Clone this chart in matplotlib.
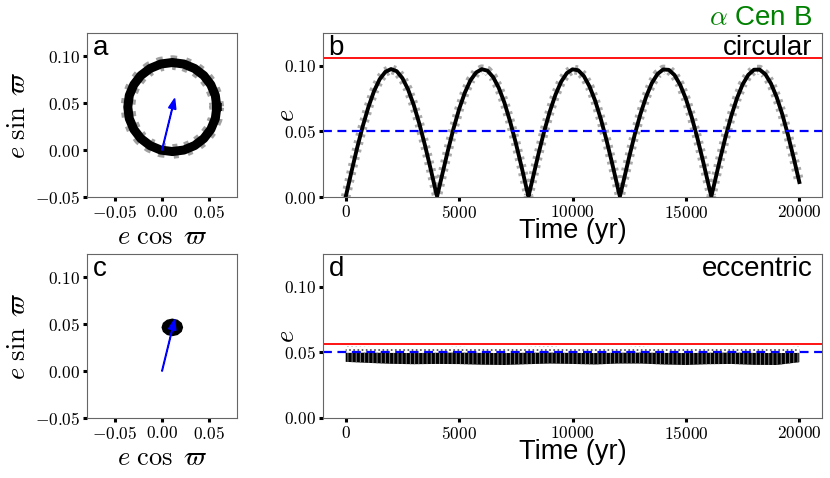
import matplotlib
matplotlib.use('Agg')
import matplotlib.pyplot as plt
from matplotlib.ticker import FixedLocator, FuncFormatter

plt.rcParams['mathtext.fontset'] = 'cm'
plt.rcParams['font.family'] = ['Liberation Sans', 'DejaVu Sans']
plt.rcParams['hatch.linewidth'] = 0.8

# ---------------- data ----------------
# panel a: e-vector trajectory (circular binary case)
ring_x = [0.0585, 0.0569, 0.0521, 0.0446, 0.0348, 0.0233, 0.0110, -0.0013,
          -0.0128, -0.0226, -0.0301, -0.0349, -0.0365, -0.0349, -0.0301, -0.0226,
          -0.0128, -0.0013, 0.0110, 0.0233, 0.0348, 0.0446, 0.0521, 0.0569, 0.0585]
ring_y = [0.0460, 0.0583, 0.0698, 0.0796, 0.0871, 0.0919, 0.0935, 0.0919,
          0.0871, 0.0796, 0.0698, 0.0583, 0.0460, 0.0337, 0.0222, 0.0124,
          0.0049, 0.0001, -0.0015, 0.0001, 0.0049, 0.0124, 0.0222, 0.0337, 0.0460]

# panel c: e-vector trajectory (eccentric binary case)
blob_x = [0.0218, 0.0204, 0.0164, 0.0110, 0.0056, 0.0016, 0.0002, 0.0016,
          0.0056, 0.0110, 0.0164, 0.0204]
blob_y = [0.0467, 0.0511, 0.0542, 0.0554, 0.0542, 0.0511, 0.0467, 0.0424,
          0.0392, 0.0380, 0.0392, 0.0424]

# forced eccentricity vector (blue arrow)
forced_x = 0.0135
forced_y = 0.055

# panel b: e(t), circular case
time_b = [0, 250, 500, 750, 1000, 1250, 1500, 1750, 2000, 2250, 2500, 2750, 3000,
          3250, 3500, 3750, 4000, 4030, 4250, 4500, 4750, 5000, 5250, 5500, 5750,
          6000, 6250, 6500, 6750, 7000, 7250, 7500, 7750, 8000, 8060, 8250, 8500,
          8750, 9000, 9250, 9500, 9750, 10000, 10250, 10500, 10750, 11000, 11250,
          11500, 11750, 12000, 12090, 12250, 12500, 12750, 13000, 13250, 13500,
          13750, 14000, 14250, 14500, 14750, 15000, 15250, 15500, 15750, 16000,
          16120, 16250, 16500, 16750, 17000, 17250, 17500, 17750, 18000, 18250,
          18500, 18750, 19000, 19250, 19500, 19750, 20000]
e_b = [0.0000, 0.0189, 0.0371, 0.0538, 0.0685, 0.0807, 0.0898, 0.0954, 0.0975,
       0.0959, 0.0906, 0.0820, 0.0702, 0.0557, 0.0391, 0.0211, 0.0023, 0.0005,
       0.0166, 0.0349, 0.0519, 0.0669, 0.0794, 0.0889, 0.0949, 0.0974, 0.0963,
       0.0914, 0.0832, 0.0718, 0.0575, 0.0412, 0.0233, 0.0046, 0.0005, 0.0144,
       0.0328, 0.0500, 0.0652, 0.0780, 0.0879, 0.0944, 0.0973, 0.0966, 0.0922,
       0.0843, 0.0733, 0.0594, 0.0433, 0.0255, 0.0068, 0.0005, 0.0121, 0.0306,
       0.0480, 0.0635, 0.0766, 0.0869, 0.0938, 0.0972, 0.0969, 0.0929, 0.0854,
       0.0748, 0.0612, 0.0453, 0.0277, 0.0091, 0.0005, 0.0099, 0.0285, 0.0460,
       0.0618, 0.0752, 0.0858, 0.0931, 0.0970, 0.0971, 0.0936, 0.0865, 0.0762,
       0.0630, 0.0473, 0.0299, 0.0114]

# panel d: e(t) band, eccentric case
time_d = [0, 1000, 2000, 3000, 4000, 5000, 6000, 7000, 8000, 9000, 10000,
          11000, 12000, 13000, 14000, 15000, 16000, 17000, 18000, 19000, 20000]
e_d_low = [0.0428, 0.0420, 0.0413, 0.0410, 0.0412, 0.0411, 0.0406, 0.0404,
           0.0410, 0.0415, 0.0412, 0.0408, 0.0415, 0.0415, 0.0408, 0.0404,
           0.0410, 0.0412, 0.0405, 0.0404, 0.0425]
e_d_high = [0.0496, 0.0498, 0.0496, 0.0495, 0.0497, 0.0498, 0.0496, 0.0495,
            0.0497, 0.0498, 0.0496, 0.0495, 0.0497, 0.0498, 0.0496, 0.0495,
            0.0497, 0.0498, 0.0496, 0.0495, 0.0496]
e_d_top = [0.0545, 0.0542, 0.0538, 0.0536, 0.0540, 0.0543, 0.0538, 0.0536,
           0.0542, 0.0545, 0.0538, 0.0536, 0.0540, 0.0544, 0.0538, 0.0535,
           0.0540, 0.0542, 0.0538, 0.0536, 0.0544]

# reference levels
e_max_circ = 0.106
e_max_ecc = 0.0567
e_crit = 0.05

vec_ticks_x = [-0.05, 0.0, 0.05]
vec_ticks_y = [-0.05, 0.0, 0.05, 0.10]
time_ticks = [0, 5000, 10000, 15000, 20000]
e_ticks = [0.0, 0.05, 0.10]

# ---------------- figure ----------------
W, H = 830, 478
fig = plt.figure(figsize=(W / 100, H / 100), dpi=100)


def ax_at(x0, y0, x1, y1):
    return fig.add_axes([x0 / W, 1 - y1 / H, (x1 - x0) / W, (y1 - y0) / H])


ax_a = ax_at(87, 33, 237, 197)
ax_b = ax_at(323, 33, 822, 197)
ax_c = ax_at(87, 254, 237, 418)
ax_d = ax_at(323, 254, 822, 418)

fmt2 = FuncFormatter(lambda v, p: f'${v:.2f}$')
fmti = FuncFormatter(lambda v, p: f'${int(round(v))}$')


def style(ax):
    for s in ax.spines.values():
        s.set_color('#666666')
        s.set_linewidth(0.8)
    ax.tick_params(direction='out', length=3, width=2.2, colors='black',
                   pad=2, labelsize=12.5)


def panel_label(ax, s):
    ax.annotate(s, xy=(0, 1), xycoords='axes fraction', xytext=(4, -1.5),
                textcoords='offset points', ha='left', va='top', fontsize=20)


for ax, xs, ys, kind in [(ax_a, ring_x, ring_y, 'ring'), (ax_c, blob_x, blob_y, 'blob')]:
    style(ax)
    if kind == 'ring':
        ax.plot(xs, ys, color='#444444', lw=10.5, alpha=0.5, ls=(0, (0.35, 0.55)),
                solid_joinstyle='round')
        ax.plot(xs, ys, color='black', lw=6.5, solid_joinstyle='round')
    else:
        ax.fill(xs, ys, color='black', lw=1)
    ax.arrow(0, 0, forced_x, forced_y, width=0.0007, head_width=0.008,
             head_length=0.011, length_includes_head=True, color='blue', zorder=5)
    ax.set_xlim(-0.08, 0.08)
    ax.set_ylim(-0.05, 0.125)
    ax.xaxis.set_major_locator(FixedLocator(vec_ticks_x))
    ax.yaxis.set_major_locator(FixedLocator(vec_ticks_y))
    ax.xaxis.set_major_formatter(fmt2)
    ax.yaxis.set_major_formatter(fmt2)
    ax.set_xlabel(r'$e\ \cos\ \varpi$', fontsize=19)
    ax.set_ylabel(r'$e\ \sin\ \varpi$', fontsize=19)
    ax.xaxis.set_label_coords(0.5, -0.245)
    ax.yaxis.set_label_coords(-0.46, 0.5)
    ax.xaxis.label.set_va('center')
    ax.yaxis.label.set_va('center')

panel_label(ax_a, 'a')
panel_label(ax_c, 'c')

# panel b
style(ax_b)
ax_b.plot(time_b, e_b, color='#555555', lw=7, alpha=0.5, ls=(0, (0.3, 0.5)))
ax_b.plot(time_b, e_b, color='black', lw=2.8, solid_joinstyle='round')
ax_b.axhline(e_max_circ, color='red', lw=1.3)
ax_b.axhline(e_crit, color='blue', lw=1.6, ls=(0, (4, 2.5)))

# panel d
style(ax_d)
ax_d.fill_between(time_d, e_d_high, e_d_top, facecolor='none', edgecolor='#555555',
                  hatch='....', lw=0)
ax_d.fill_between(time_d, e_d_low, e_d_high, facecolor='black', edgecolor='#777777',
                  hatch='||||', lw=0)
ax_d.axhline(e_max_ecc, color='red', lw=1.3)
ax_d.axhline(e_crit, color='blue', lw=1.6, ls=(0, (4, 2.5)))

for ax, lab, kind in [(ax_b, 'b', 'circular'), (ax_d, 'd', 'eccentric')]:
    ax.set_xlim(-1000, 21000)
    ax.set_ylim(0, 0.125)
    ax.xaxis.set_major_locator(FixedLocator(time_ticks))
    ax.yaxis.set_major_locator(FixedLocator(e_ticks))
    ax.xaxis.set_major_formatter(fmti)
    ax.yaxis.set_major_formatter(fmt2)
    ax.set_xlabel('Time (yr)', fontsize=19.5)
    ax.set_ylabel(r'$e$', fontsize=19)
    ax.xaxis.set_label_coords(0.5, -0.21)
    ax.yaxis.set_label_coords(-0.072, 0.5)
    ax.xaxis.label.set_va('center')
    ax.yaxis.label.set_va('center')
    panel_label(ax, lab)
    ax.annotate(kind, xy=(1, 1), xycoords='axes fraction', xytext=(-7, -1.5),
                textcoords='offset points', ha='right', va='top', fontsize=20)

fig.text(812 / W, 1 - 25 / H, r'$\alpha$ Cen B', color='green', fontsize=20,
         ha='right', va='baseline')

fig.savefig('out.png', dpi=100)
